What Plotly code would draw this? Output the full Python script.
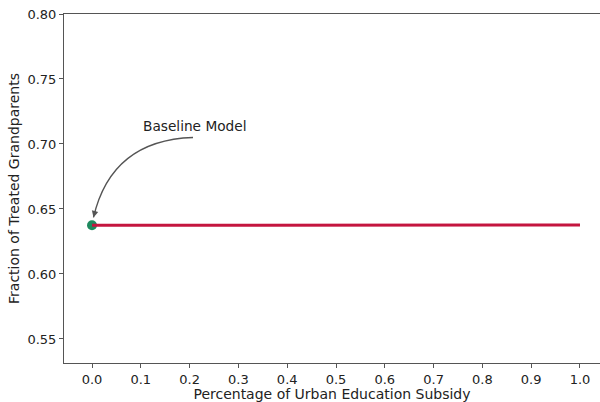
import plotly.graph_objects as go

# Subsidy share and resulting fraction of treated grandparents
subsidy = [0.0, 0.1, 0.2, 0.3, 0.4, 0.5, 0.6, 0.7, 0.8, 0.9, 1.0]
treated = [0.6375, 0.6375, 0.6375, 0.6376, 0.6376, 0.6376, 0.6376, 0.6376, 0.6376, 0.6376, 0.6376]

baseline_x = [0.0]
baseline_y = [0.6375]

x_ticks = [0.0, 0.1, 0.2, 0.3, 0.4, 0.5, 0.6, 0.7, 0.8, 0.9, 1.0]
y_ticks = [0.55, 0.60, 0.65, 0.70, 0.75, 0.80]

FONT = "DejaVu Sans"

fig = go.Figure()

fig.add_trace(go.Scatter(
    x=baseline_x, y=baseline_y, mode="markers",
    marker=dict(color="#1f8a5f", size=10),
    showlegend=False, hoverinfo="skip",
))
fig.add_trace(go.Scatter(
    x=subsidy, y=treated, mode="lines",
    line=dict(color="#c4153f", width=3),
    showlegend=False,
))

# Curved annotation arrow from the label down to the baseline point
x0, y0 = 0.207, 0.705      # start just under the label
cx, cy = 0.040, 0.703      # bezier control point
x1, y1 = baseline_x[0] + 0.003, baseline_y[0] + 0.006
fig.add_shape(
    type="path",
    path=f"M {x0},{y0} Q {cx},{cy} {x1},{y1}",
    xref="x", yref="y",
    line=dict(color="#555555", width=1.3),
)
fig.add_annotation(
    x=x1, y=y1, ax=x1 + 0.004, ay=y1 + 0.006,
    xref="x", yref="y", axref="x", ayref="y",
    text="", showarrow=True, arrowhead=2, arrowsize=1, arrowwidth=1.3,
    arrowcolor="#555555",
)
fig.add_annotation(
    x=0.211, y=0.7135, xref="x", yref="y",
    text="Baseline Model", showarrow=False,
    font=dict(family=FONT, size=13.7, color="#222222"),
)

fig.update_layout(
    width=600, height=402,
    margin=dict(l=64, r=0, t=14, b=39),
    paper_bgcolor="white", plot_bgcolor="white",
    font=dict(family=FONT, color="#222222"),
)
fig.update_xaxes(
    range=[-0.0574, 1.041],
    tickvals=x_ticks, ticktext=[f"{v:.1f}" for v in x_ticks],
    ticks="outside", ticklen=4, tickcolor="#555555",
    showline=True, linecolor="#555555", linewidth=1, mirror=True,
    showgrid=False, zeroline=False,
    tickfont=dict(family=FONT, size=13, color="#222222"),
    title=dict(text="Percentage of Urban Education Subsidy",
               font=dict(family=FONT, size=14, color="#222222"), standoff=0),
)
fig.update_yaxes(
    range=[0.5315, 0.80],
    tickvals=y_ticks, ticktext=[f"{v:.2f}" for v in y_ticks],
    ticks="outside", ticklen=4, tickcolor="#555555",
    showline=True, linecolor="#555555", linewidth=1, mirror=False,
    showgrid=False, zeroline=False,
    tickfont=dict(family=FONT, size=13, color="#222222"),
    title=dict(text="Fraction of Treated Grandparents",
               font=dict(family=FONT, size=14, color="#222222"), standoff=4),
)

fig.write_html("out.html")
